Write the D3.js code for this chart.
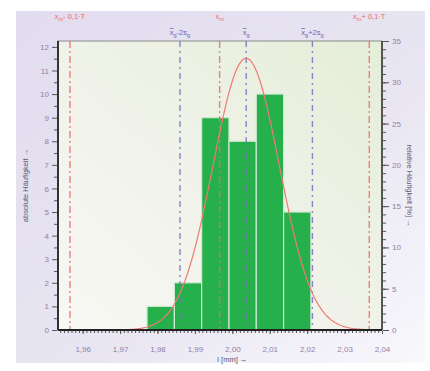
<!DOCTYPE html>
<html>
<head>
<meta charset="utf-8">
<script src="https://cdn.jsdelivr.net/npm/d3@7"></script>
<style>
  body { margin: 0; background: #fff; }
  svg { display: block; font-family: "Liberation Sans", Arial, sans-serif; }
</style>
</head>
<body>
<svg id="viz" width="430" height="371"></svg>
<script>
// histogram classes (left edge, width) and counts
const binStarts = [1.9772, 1.9845, 1.9918, 1.9991, 2.0064, 2.0137];
const binWidth = 0.0073;
const counts = [1, 2, 9, 8, 10, 5];

// fitted normal distribution
const meanG = 2.0037;
const sdG = 0.00885;

// tolerance reference lines
const xm = 1.9966;
const tolOffset = 0.04;

const xTicks = [1.96, 1.97, 1.98, 1.99, 2.00, 2.01, 2.02, 2.03, 2.04];
const leftTicks = d3.range(0, 13);
const rightTicks = [0, 5, 10, 15, 20, 25, 30, 35];

const svg = d3.select("#viz");
const m = { left: 58, right: 382, top: 41, bottom: 330 };
const total = d3.sum(counts);

const x = d3.scaleLinear().domain([1.9534, 2.04]).range([m.left, m.right]);
const yL = d3.scaleLinear().domain([0, 35 * total / 100]).range([m.bottom, m.top]);
const yR = d3.scaleLinear().domain([0, 35]).range([m.bottom, m.top]);

const defs = svg.append("defs");
const g1 = defs.append("linearGradient").attr("id", "panel")
  .attr("x1", 0).attr("y1", 0).attr("x2", 1).attr("y2", 1);
g1.append("stop").attr("offset", "0%").attr("stop-color", "#e1dcef");
g1.append("stop").attr("offset", "60%").attr("stop-color", "#e9e6f2");
g1.append("stop").attr("offset", "100%").attr("stop-color", "#f9f8fc");
const g2 = defs.append("linearGradient").attr("id", "plotbg")
  .attr("x1", 0).attr("y1", 1).attr("x2", 1).attr("y2", 0);
g2.append("stop").attr("offset", "0%").attr("stop-color", "#f8f8f4");
g2.append("stop").attr("offset", "45%").attr("stop-color", "#f1f3ea");
g2.append("stop").attr("offset", "100%").attr("stop-color", "#e4eed8");

svg.append("rect").attr("x", 16).attr("y", 11).attr("width", 409).attr("height", 352)
  .attr("fill", "url(#panel)");
svg.append("rect").attr("x", m.left).attr("y", m.top)
  .attr("width", m.right - m.left).attr("height", m.bottom - m.top)
  .attr("fill", "url(#plotbg)");

// bars
svg.selectAll("rect.bar").data(counts).enter().append("rect")
  .attr("class", "bar")
  .attr("x", (d, i) => x(binStarts[i]))
  .attr("width", (d, i) => x(binStarts[i] + binWidth) - x(binStarts[i]))
  .attr("y", d => yL(d))
  .attr("height", d => yL(0) - yL(d))
  .attr("fill", "#25b04b")
  .attr("stroke", "#cfe8cf")
  .attr("stroke-width", 1.2);

// vertical reference lines
const refs = [
  { v: xm - tolOffset, color: "#f06a6a", dash: "7,3,2,3" },
  { v: xm, color: "#f06a6a", dash: "7,3,2,3" },
  { v: xm + tolOffset, color: "#f06a6a", dash: "7,3,2,3" },
  { v: meanG - 2 * sdG, color: "#7b6fc0", dash: "6,4,2,4" },
  { v: meanG, color: "#7b6fc0", dash: "6,4,2,4" },
  { v: meanG + 2 * sdG, color: "#7b6fc0", dash: "6,4,2,4" }
];
svg.selectAll("line.ref").data(refs).enter().append("line")
  .attr("x1", d => x(d.v)).attr("x2", d => x(d.v))
  .attr("y1", m.top).attr("y2", m.bottom)
  .attr("stroke", d => d.color).attr("stroke-width", 1.4)
  .attr("stroke-dasharray", d => d.dash).attr("opacity", 0.85);

// gauss fit curve
const scale = total * binWidth / (sdG * Math.sqrt(2 * Math.PI));
const curve = d3.range(x.domain()[0], x.domain()[1] + 1e-9, 0.0005).map(v =>
  [v, scale * Math.exp(-0.5 * ((v - meanG) / sdG) ** 2)]);
svg.append("path").datum(curve)
  .attr("d", d3.line().x(d => x(d[0])).y(d => yL(d[1])))
  .attr("fill", "none").attr("stroke", "#f07a72").attr("stroke-width", 1.2);

// frame
svg.append("rect").attr("x", m.left).attr("y", m.top)
  .attr("width", m.right - m.left).attr("height", m.bottom - m.top)
  .attr("fill", "none").attr("stroke", "#8a8a8a").attr("stroke-width", 1);
svg.append("line").attr("x1", m.left).attr("x2", m.left).attr("y1", m.top).attr("y2", m.bottom)
  .attr("stroke", "#333").attr("stroke-width", 2);
svg.append("line").attr("x1", m.right).attr("x2", m.right).attr("y1", m.top).attr("y2", m.bottom)
  .attr("stroke", "#333").attr("stroke-width", 1.5);
svg.append("line").attr("x1", m.left).attr("x2", m.right).attr("y1", m.bottom).attr("y2", m.bottom)
  .attr("stroke", "#222").attr("stroke-width", 2);

const tickColor = "#555";
const labelColor = "#8d82a6";

// x axis
const fmtX = d => d3.format(".2f")(d).replace(".", ",");
svg.append("g").attr("transform", `translate(0,${m.bottom + 1})`)
  .call(d3.axisBottom(x).tickValues(xTicks).tickFormat(fmtX).tickSize(3).tickPadding(12));
svg.append("g").attr("transform", `translate(0,${m.bottom + 1})`)
  .call(d3.axisBottom(x).tickValues(d3.range(1.954, 2.0401, 0.001)).tickFormat("").tickSize(2))
  .call(g => g.select(".domain").remove());

// left axis
svg.append("g").attr("transform", `translate(${m.left - 1},0)`)
  .call(d3.axisLeft(yL).tickValues(leftTicks).tickSize(5).tickPadding(3));
svg.append("g").attr("transform", `translate(${m.left - 1},0)`)
  .call(d3.axisLeft(yL).tickValues(d3.range(0.5, 12.3, 1)).tickFormat("").tickSize(3))
  .call(g => g.select(".domain").remove());

// right axis
svg.append("g").attr("transform", `translate(${m.right + 1},0)`)
  .call(d3.axisRight(yR).tickValues(rightTicks).tickSize(6).tickPadding(3));
svg.append("g").attr("transform", `translate(${m.right + 1},0)`)
  .call(d3.axisRight(yR).tickValues(d3.range(0, 35.1, 1)).tickFormat("").tickSize(3))
  .call(g => g.select(".domain").remove());

svg.selectAll(".domain").remove();
svg.selectAll(".tick line").attr("stroke", tickColor);
svg.selectAll(".tick text").attr("fill", labelColor).attr("font-size", 8)
  .attr("font-family", "Liberation Sans, Arial, sans-serif");

// axis titles
svg.append("text").attr("transform", `translate(28,${(m.top + m.bottom) / 2}) rotate(-90)`)
  .attr("text-anchor", "middle").attr("font-size", 7.5).attr("fill", "#5f5872")
  .text("absolute Häufigkeit →");
svg.append("text").attr("transform", `translate(407,${(m.top + m.bottom) / 2}) rotate(90)`)
  .attr("text-anchor", "middle").attr("font-size", 7.5).attr("fill", "#5f5872")
  .text("relative Häufigkeit [%] →");
svg.append("text").attr("x", x(2.0)).attr("y", 362)
  .attr("text-anchor", "middle").attr("font-size", 7.5).attr("fill", "#5f5872")
  .text("l [mm] →");

// reference labels
const redLabels = [
  { v: xm - tolOffset, txt: ["x", "m", "- 0,1·T"] },
  { v: xm, txt: ["x", "m", ""] },
  { v: xm + tolOffset, txt: ["x", "m", "+ 0,1·T"] }
];
redLabels.forEach(d => {
  const t = svg.append("text").attr("x", x(d.v)).attr("y", 19)
    .attr("text-anchor", "middle").attr("font-size", 7.5).attr("fill", "#f06a6a");
  t.append("tspan").text(d.txt[0]);
  t.append("tspan").attr("font-size", 5.5).attr("dy", 1.5).text(d.txt[1]);
  t.append("tspan").attr("dy", -1.5).text(d.txt[2]);
});
const blueLabels = [
  { v: meanG - 2 * sdG, txt: "-2s" },
  { v: meanG, txt: "" },
  { v: meanG + 2 * sdG, txt: "+2s" }
];
blueLabels.forEach(d => {
  const t = svg.append("text").attr("x", x(d.v)).attr("y", 35)
    .attr("text-anchor", "middle").attr("font-size", 7.5).attr("fill", "#6d62b0");
  t.append("tspan").attr("text-decoration", "overline").text("x");
  t.append("tspan").attr("font-size", 5.5).attr("dy", 1.5).text("g");
  if (d.txt) {
    t.append("tspan").attr("dy", -1.5).text(d.txt);
    t.append("tspan").attr("font-size", 5.5).attr("dy", 1.5).text("g");
  }
});
</script>
</body>
</html>
